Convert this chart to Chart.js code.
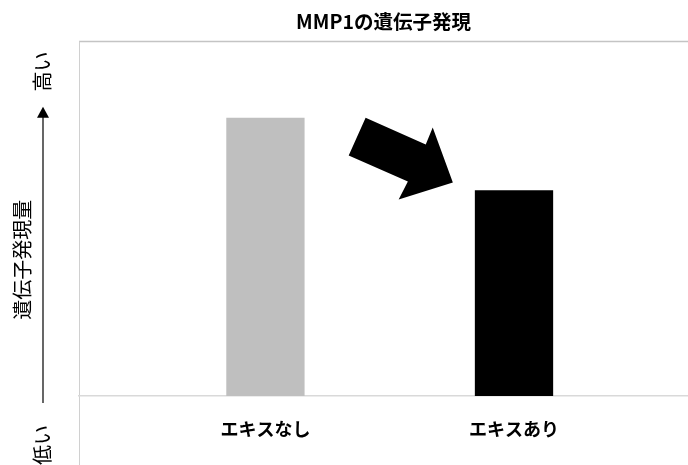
<!DOCTYPE html>
<html>
<head>
<meta charset="utf-8">
<script src="https://cdn.jsdelivr.net/npm/chart.js@4"></script>
<style>
  html, body { margin: 0; padding: 0; background: #fff; overflow: hidden; }
  #wrap { width: 688px; height: 465px; position: relative; }
</style>
</head>
<body>
<div id="wrap"><canvas id="mmpChart"></canvas></div>
<script>
// Data
const categories = ['エキスなし', 'エキスあり'];
const expression = [78.5, 58];
const barColors = ['#bfbfbf', '#000000'];
const yLabels = ['高い', '遺伝子発現量', '低い'];

const JP_FONT = '"Noto Sans CJK JP", "Noto Sans", sans-serif';

// Decorations: plot frame, axis arrow with labels, big down arrow
const decorPlugin = {
    id: 'decor',
    beforeDraw(chart) {
        const { ctx, chartArea, height, width } = chart;
        ctx.save();
        ctx.strokeStyle = '#c4c4c4';
        ctx.lineWidth = 1.5;
        ctx.beginPath();
        ctx.moveTo(chartArea.left, chartArea.top);
        ctx.lineTo(width, chartArea.top);
        ctx.stroke();
        ctx.strokeStyle = '#d0d0d0';
        ctx.lineWidth = 1;
        ctx.beginPath();
        ctx.moveTo(chartArea.left + 0.5, chartArea.top);
        ctx.lineTo(chartArea.left + 0.5, height);
        ctx.stroke();
        ctx.restore();
    },
    afterDatasetsDraw(chart) {
        const { ctx } = chart;
        const xs = chart.scales.x;
        const ys = chart.scales.y;

        // big arrow (in data units)
        const arrow = [[1.403, 78.5], [1.645, 70.9], [1.673, 75.7], [1.754, 60.2],
                       [1.536, 55.4], [1.573, 60.5], [1.335, 67.8]];
        ctx.save();
        ctx.fillStyle = '#000';
        ctx.beginPath();
        arrow.forEach((p, i) => {
            const px = xs.getPixelForValue(p[0]);
            const py = ys.getPixelForValue(p[1]);
            if (i === 0) ctx.moveTo(px, py); else ctx.lineTo(px, py);
        });
        ctx.closePath();
        ctx.fill();

        // y axis arrow
        const ax = 43;
        const yBottom = ys.getPixelForValue(-2);
        const yTip = ys.getPixelForValue(81.6);
        ctx.strokeStyle = '#000';
        ctx.lineWidth = 1.2;
        ctx.beginPath();
        ctx.moveTo(ax, yBottom);
        ctx.lineTo(ax, yTip + 10);
        ctx.stroke();
        ctx.beginPath();
        ctx.moveTo(ax, yTip);
        ctx.lineTo(ax - 6, yTip + 11);
        ctx.lineTo(ax + 6, yTip + 11);
        ctx.closePath();
        ctx.fill();

        // rotated labels
        const labelPos = [[42, 91.5], [22, 38.4], [42, -13.8]];
        ctx.font = '20px ' + JP_FONT;
        ctx.textAlign = 'center';
        ctx.textBaseline = 'middle';
        yLabels.forEach((t, i) => {
            ctx.save();
            ctx.translate(labelPos[i][0], ys.getPixelForValue(labelPos[i][1]));
            ctx.rotate(-Math.PI / 2);
            ctx.fillText(t, 0, 0);
            ctx.restore();
        });
        ctx.restore();
    }
};

const ctx = document.getElementById('mmpChart').getContext('2d');
const mmpChart = new Chart(ctx, {
    type: 'bar',
    data: {
        datasets: [{
            label: 'MMP1',
            data: categories.map((c, i) => ({ x: i + 1, y: expression[i] })),
            backgroundColor: barColors,
            borderWidth: 0,
            barPercentage: 0.315,
            categoryPercentage: 1
        }]
    },
    options: {
        responsive: true,
        maintainAspectRatio: false,
        animation: false,
        layout: { padding: { left: 79, right: 0, top: 0, bottom: 0 } },
        scales: {
            x: {
                type: 'linear',
                offset: false,
                min: 0.25,
                max: 2.70,
                grid: { display: false, offset: false },
                border: { display: true, color: '#d9d9d9', width: 1.5 },
                ticks: {
                    stepSize: 1,
                    includeBounds: false,
                    autoSkip: false,
                    maxRotation: 0,
                    padding: 14,
                    color: '#000',
                    font: { family: JP_FONT, size: 18, weight: 'bold' },
                    callback: (v) => Number.isInteger(v) && categories[v - 1] ? categories[v - 1] : ''
                },
                afterFit: (scale) => { scale.height = 69; }
            },
            y: {
                display: false,
                min: 0,
                max: 100
            }
        },
        plugins: {
            legend: { display: false },
            tooltip: { enabled: false },
            title: {
                display: true,
                fullSize: false,
                text: 'MMP1の遺伝子発現',
                color: '#000',
                font: { family: JP_FONT, size: 19.5, weight: 'bold' },
                padding: { top: 10, bottom: 8 }
            }
        }
    },
    plugins: [decorPlugin]
});
</script>
</body>
</html>
